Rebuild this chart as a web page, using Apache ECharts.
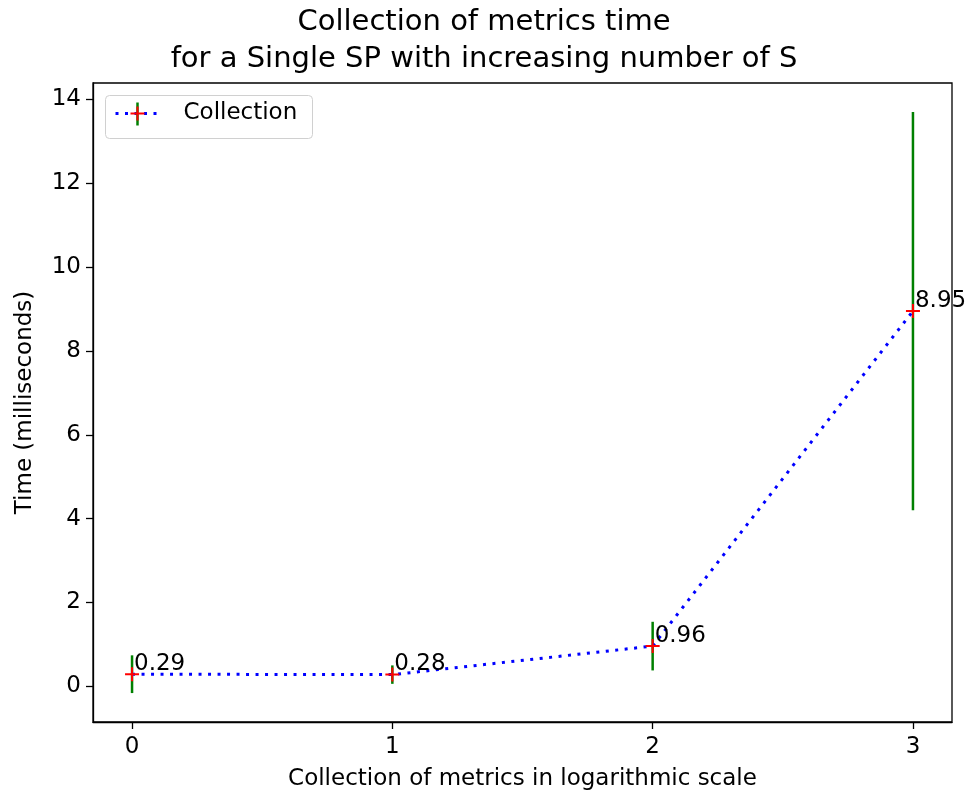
<!DOCTYPE html>
<html>
<head>
<meta charset="utf-8">
<script src="https://cdn.jsdelivr.net/npm/echarts@6/dist/echarts.min.js"></script>
<style>
  html, body { margin: 0; padding: 0; background: #fff; }
  #chart { width: 968px; height: 798px; }
</style>
</head>
<body>
<div id="chart"></div>
<script>
// data
const xValues = [0, 1, 2, 3];
const means = [0.29, 0.28, 0.96, 8.95];
const errors = [0.45, 0.22, 0.58, 4.75];
const xTicks = [0, 1, 2, 3];
const yTicks = [0, 2, 4, 6, 8, 10, 12, 14];

const FONT = 'DejaVu Sans';
const plusPath = 'path://M0,5L10,5M5,0L5,10';

const lineData = xValues.map((x, i) => [x, means[i]]);
const errData = xValues.map((x, i) => [x, means[i] - errors[i], means[i] + errors[i]]);

const chart = echarts.init(document.getElementById('chart'));

const option = {
  animation: false,
  title: {
    text: 'Collection of metrics time\nfor a Single SP with increasing number of S',
    left: 'center',
    top: -1,
    textStyle: { fontFamily: FONT, fontSize: 29, fontWeight: 'normal', color: '#000', lineHeight: 37 }
  },
  grid: {
    left: 93, right: 16, top: 83, bottom: 76,
    outerBoundsMode: 'none',
    containLabel: false,
    show: true, borderColor: '#000', borderWidth: 1.3, backgroundColor: '#fff'
  },
  xAxis: {
    type: 'value',
    min: -0.15, max: 3.15,
    name: 'Collection of metrics in logarithmic scale',
    nameLocation: 'middle',
    nameGap: 46,
    nameTextStyle: { fontFamily: FONT, fontSize: 23, color: '#000' },
    axisLine: { show: true, onZero: false, lineStyle: { color: '#000', width: 1.3 } },
    axisTick: { show: true, customValues: xTicks, length: 7, lineStyle: { color: '#000', width: 1.3 } },
    axisLabel: { customValues: xTicks, margin: 14, fontFamily: FONT, fontSize: 23, color: '#000' },
    splitLine: { show: false }
  },
  yAxis: {
    type: 'value',
    min: -0.85, max: 14.39,
    name: 'Time (milliseconds)',
    nameLocation: 'middle',
    nameGap: 56,
    nameRotate: 90,
    nameTextStyle: { fontFamily: FONT, fontSize: 23, color: '#000' },
    axisLine: { show: true, onZero: false, lineStyle: { color: '#000', width: 1.3 } },
    axisTick: { show: true, customValues: yTicks, length: 7, lineStyle: { color: '#000', width: 1.3 } },
    axisLabel: { customValues: yTicks, margin: 12, fontFamily: FONT, fontSize: 23, color: '#000' },
    splitLine: { show: false }
  },
  graphic: [
    {
      type: 'group',
      left: 105, top: 95,
      children: [
        { type: 'rect', shape: { x: 0, y: 0, width: 207, height: 43, r: 4 },
          style: { fill: 'rgba(255,255,255,0.8)', stroke: '#d0d0d0', lineWidth: 1 } },
        { type: 'line', shape: { x1: 10, y1: 18, x2: 52, y2: 18 },
          style: { stroke: '#0000ff', lineWidth: 3, lineDash: [3, 6.5] } },
        { type: 'line', shape: { x1: 32, y1: 7, x2: 32, y2: 30 },
          style: { stroke: '#008000', lineWidth: 2.5 } },
        { type: 'line', shape: { x1: 25, y1: 18, x2: 39, y2: 18 },
          style: { stroke: '#ff0000', lineWidth: 2 } },
        { type: 'line', shape: { x1: 32, y1: 11, x2: 32, y2: 25 },
          style: { stroke: '#ff0000', lineWidth: 2 } },
        { type: 'text', x: 78, y: 18,
          style: { text: 'Collection', font: '23px "DejaVu Sans"', fill: '#000', verticalAlign: 'middle' } }
      ]
    }
  ],
  series: [
    {
      type: 'custom',
      name: 'err',
      data: errData,
      z: 2,
      renderItem: function (params, api) {
        const lo = api.coord([api.value(0), api.value(1)]);
        const hi = api.coord([api.value(0), api.value(2)]);
        return {
          type: 'line',
          shape: { x1: lo[0], y1: lo[1], x2: hi[0], y2: hi[1] },
          style: { stroke: '#008000', lineWidth: 2.5 }
        };
      }
    },
    {
      type: 'line',
      name: 'Collection',
      data: lineData,
      z: 3,
      symbol: plusPath,
      symbolSize: 14,
      itemStyle: { color: '#ff0000', borderColor: '#ff0000', borderWidth: 2 },
      lineStyle: { color: '#0000ff', width: 3, type: [3, 6.5] },
      label: {
        show: true,
        position: [10, -14],
        align: 'left',
        verticalAlign: 'top',
        fontFamily: FONT,
        fontSize: 23,
        color: '#000',
        formatter: p => p.value[1].toFixed(2)
      }
    }
  ]
};

chart.setOption(option);
</script>
</body>
</html>
